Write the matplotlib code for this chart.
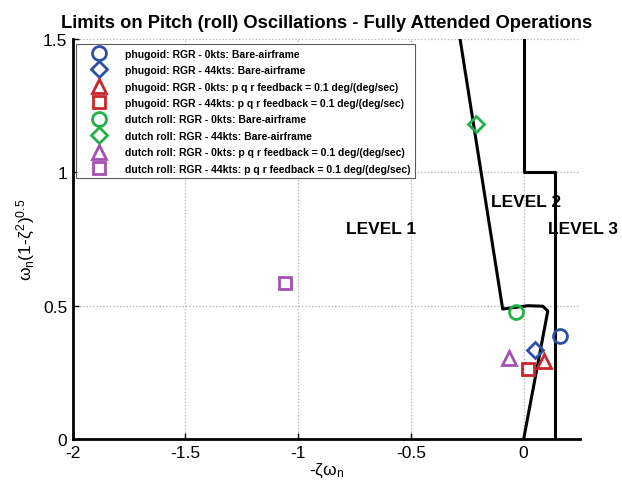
import matplotlib
matplotlib.use("Agg")
import matplotlib.pyplot as plt

plt.rcParams['font.family'] = ['Liberation Sans', 'DejaVu Sans']
plt.rcParams['mathtext.fontset'] = 'custom'
plt.rcParams['mathtext.rm'] = 'Liberation Sans'
plt.rcParams['mathtext.it'] = 'Liberation Sans'

# Boundaries
b12_x = [-0.282, -0.093, 0.02, 0.085, 0.107, 0.0]
b12_y = [1.5, 0.4875, 0.5, 0.498, 0.48, 0.0]
b23_x = [0.0, 0.0, 0.14, 0.14]
b23_y = [1.5, 1.0, 1.0, 0.0]

labels = [
    "phugoid: RGR - 0kts: Bare-airframe",
    "phugoid: RGR - 44kts: Bare-airframe",
    "phugoid: RGR - 0kts: p q r feedback = 0.1 deg/(deg/sec)",
    "phugoid: RGR - 44kts: p q r feedback = 0.1 deg/(deg/sec)",
    "dutch roll: RGR - 0kts: Bare-airframe",
    "dutch roll: RGR - 44kts: Bare-airframe",
    "dutch roll: RGR - 0kts: p q r feedback = 0.1 deg/(deg/sec)",
    "dutch roll: RGR - 44kts: p q r feedback = 0.1 deg/(deg/sec)",
]
xs = [0.163, 0.05, 0.092, 0.018, -0.034, -0.212, -0.064, -1.06]
ys = [0.387, 0.335, 0.294, 0.262, 0.475, 1.181, 0.303, 0.585]
markers = ['o', 'D', '^', 's', 'o', 'D', '^', 's']
colors = ['#2e4fa6', '#2e4fa6', '#c8262c', '#c8262c', '#22b04a', '#22b04a', '#a452b0', '#a452b0']
msizes = [10, 8, 10, 9, 10, 8, 10, 9]

fig = plt.figure(figsize=(6.22, 4.89), dpi=100)
ax = fig.add_axes([0.117, 0.1002, 0.8155, 0.8178])

for x, y, m, c, s, l in zip(xs, ys, markers, colors, msizes, labels):
    ax.plot([x], [y], linestyle='none', marker=m, markersize=s, markerfacecolor='none',
            markeredgecolor=c, markeredgewidth=2, label=l, zorder=4)

ax.plot(b12_x, b12_y, color='black', lw=2.2, zorder=3)
ax.plot(b23_x, b23_y, color='black', lw=2.2, zorder=3)

ax.text(-0.79, 0.79, 'LEVEL 1', fontsize=12.5, fontweight='bold', va='center', ha='left')
ax.text(-0.145, 0.89, 'LEVEL 2', fontsize=12.5, fontweight='bold', va='center', ha='left')
ax.text(0.11, 0.79, 'LEVEL 3', fontsize=12.5, fontweight='bold', va='center', ha='left')

ax.set_xlim(-2, 0.25)
ax.set_ylim(0, 1.5)
ax.set_xticks([-2, -1.5, -1, -0.5, 0])
ax.set_xticklabels(['-2', '-1.5', '-1', '-0.5', '0'])
ax.set_yticks([0, 0.5, 1, 1.5])
ax.set_yticklabels(['0', '0.5', '1', '1.5'])
ax.tick_params(direction='in', length=4, width=1, labelsize=12.5, pad=4)
ax.grid(True, linestyle=':', color='#b0b0b0', lw=0.9)
for s in ['top', 'right']:
    ax.spines[s].set_visible(False)
for s in ['left', 'bottom']:
    ax.spines[s].set_linewidth(2)

ax.set_xlabel(r'-$\zeta\omega_n$', fontsize=12.5, labelpad=1)
ax.set_ylabel(r'$\omega_n(1$-$\zeta^2)^{0.5}$', fontsize=12.5, labelpad=4)
ax.set_title('Limits on Pitch (roll) Oscillations - Fully Attended Operations',
             fontsize=13.2, fontweight='bold', pad=9)

leg = ax.legend(loc='upper left', bbox_to_anchor=(0.006, 0.988),
                prop={'weight': 'bold', 'size': 7.5}, labelspacing=0.62,
                handletextpad=0.7, borderpad=0.45, frameon=True, fancybox=False,
                numpoints=1, handlelength=3.6, borderaxespad=0)
leg.get_frame().set_edgecolor('#333333')
leg.get_frame().set_linewidth(0.8)
leg.set_zorder(5)

fig.savefig('out.png', dpi=100)
